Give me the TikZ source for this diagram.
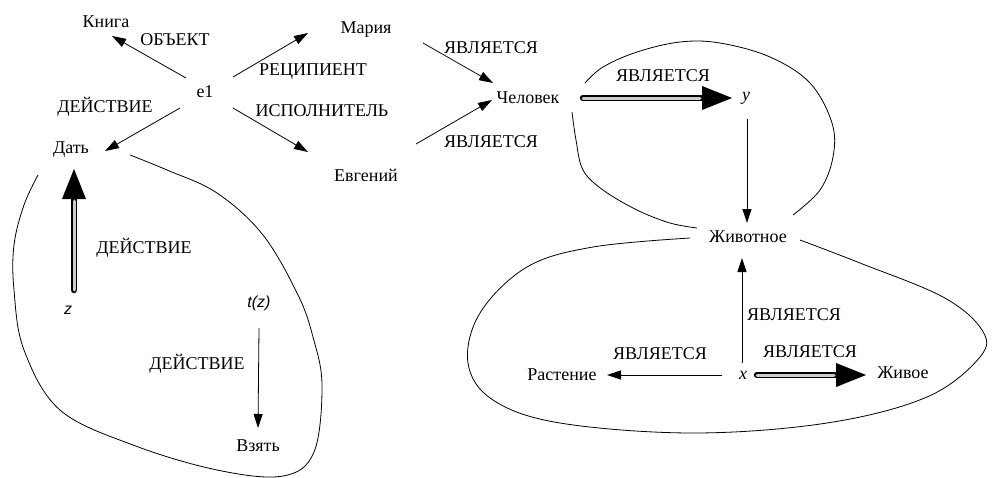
\documentclass[tikz,border=0pt]{standalone}
\usepackage{fontspec}
\setmainfont{Liberation Serif}
\newfontfamily\sansit{Liberation Sans}
\usetikzlibrary{arrows.meta}
\tikzset{
  lbl/.style={inner sep=1pt, font=\fontsize{18}{20}\selectfont},
  var/.style={inner sep=1pt, font=\fontsize{18}{20}\selectfont\itshape},
  svar/.style={inner sep=1pt, font=\sansit\fontsize{16}{18}\selectfont\itshape},
  arr/.style={line width=0.8pt, -{Triangle[length=14pt,width=9pt]}},
  dblarr/.style={line width=6.5pt, line cap=round,
    -{Triangle[length=31pt,width=22pt]},
    postaction={draw, -, line width=3pt, black!20, line cap=round, shorten >=33pt}},
  loop/.style={line width=0.8pt, smooth, tension=0.6}
}
\begin{document}
\begin{tikzpicture}[x=1pt, y=-1pt]
\useasboundingbox (0,0) rectangle (994,477);

% concept nodes
\node[lbl] (kniga) at (106,22) {Книга};
\node[lbl] (e1) at (205,92) {e1};
\node[lbl] (dat) at (71,150) {Дать};
\node[lbl] (maria) at (366,30) {Мария};
\node[lbl] (evg) at (366,175) {Евгений};
\node[lbl] (chel) at (528,98) {Человек};
\node[var] (y) at (746,98) {y};
\node[lbl] (zhivot) at (748,237) {Животное};
\node[lbl] (rast) at (562,375) {Растение};
\node[var] (x) at (743,375) {x};
\node[lbl] (zhivoe) at (903,373) {Живое};
\node[svar] (z) at (68,310) {z};
\node[svar] (tz) at (259,303) {t(z)};
\node[lbl] (vzyat) at (258,446) {Взять};

% relation labels
\node[lbl] (l1) at (175,40) {ОБЪЕКТ};
\node[lbl] (l2) at (105,107) {ДЕЙСТВИЕ};
\node[lbl] (l3) at (313,72) {РЕЦИПИЕНТ};
\node[lbl] (l4) at (322,111) {ИСПОЛНИТЕЛЬ};
\node[lbl] (l5) at (491,48) {ЯВЛЯЕТСЯ};
\node[lbl] (l6) at (491,142) {ЯВЛЯЕТСЯ};
\node[lbl] (l7) at (663,76) {ЯВЛЯЕТСЯ};
\node[lbl] (l8) at (794,315) {ЯВЛЯЕТСЯ};
\node[lbl] (l9) at (660,354) {ЯВЛЯЕТСЯ};
\node[lbl] (l10) at (810,352) {ЯВЛЯЕТСЯ};
\node[lbl] (l11) at (144,248) {ДЕЙСТВИЕ};
\node[lbl] (l12) at (197,364) {ДЕЙСТВИЕ};

% thin arrows
\draw[arr] ([shift={(-19,-14)}]e1.center) -- ([shift={(6,14)}]kniga.center);
\draw[arr] ([shift={(-25,16)}]e1.center) -- ([shift={(34,1)}]dat.center);
\draw[arr] ([shift={(28,-15)}]e1.center) -- ([shift={(-58,3)}]maria.center);
\draw[arr] ([shift={(28,16)}]e1.center) -- ([shift={(-58,-23)}]evg.center);
\draw[arr] ([shift={(57,13)}]maria.center) -- ([shift={(-35,-15)}]chel.center);
\draw[arr] ([shift={(50,-31)}]evg.center) -- ([shift={(-36,2)}]chel.center);
\draw[arr] ([shift={(1,21)}]y.center) -- ([shift={(-1,-14)}]zhivot.center);
\draw[arr] ([shift={(-1,-12)}]x.center) -- ([shift={(-6,21)}]zhivot.center);
\draw[arr] ([shift={(-21,0)}]x.center) -- ([shift={(45,0)}]rast.center);
\draw[arr] ([shift={(0,25)}]tz.center) -- ([shift={(0,-18)}]vzyat.center);

% double arrows
\draw[dblarr] ([shift={(55,0)}]chel.center) -- ([shift={(-13,0)}]y.center);
\draw[dblarr] ([shift={(14,0)}]x.center) -- ([shift={(-36,2)}]zhivoe.center);
\draw[dblarr] ([shift={(6,-20)}]z.center) -- ([shift={(3,18)}]dat.center);

% context loops
\draw[loop] plot coordinates {(38,175) (24,205) (14,245) (14,290) (24,350) (60,410) (133,445) (217,470) (283,476) (314,452) (322,385) (313,337) (298,295) (263,235) (217,193) (167,170) (130,155)};
\draw[loop] plot coordinates {(585,83) (603,67) (637,52) (680,42) (720,43) (770,57) (810,83) (832,123) (833,157) (820,190) (793,215)};
\draw[loop] plot coordinates {(572,112) (576,140) (583,170) (603,190) (637,210) (670,223) (697,228)};
\draw[loop] plot coordinates {(690,238) (593,247) (527,267) (480,313) (468,363) (493,400) (560,423) (693,433) (827,423) (927,397) (980,357) (982,330) (943,297) (860,263) (800,240)};
\end{tikzpicture}
\end{document}
